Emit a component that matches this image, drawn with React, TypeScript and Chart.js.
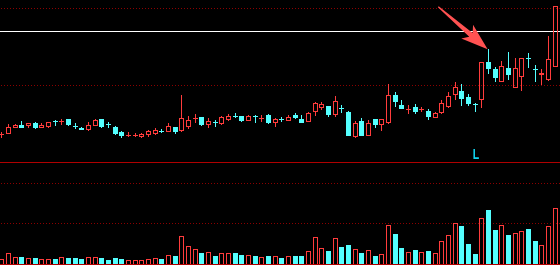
import React, { useEffect, useRef } from "react";
import { Chart, registerables } from "chart.js";

Chart.register(...registerables);

// ---- data (prices; index = trading day) ----
const opens = [
  13.62, 13.84, 14.62, 14.84, 14.88, 15.10, 14.62, 14.71, 15.33, 15.31,
  15.62, 14.78, 14.49, 14.29, 14.88, 15.58, 14.94, 14.58, 13.97, 13.53,
  13.53, 13.46, 13.70, 13.83, 14.04, 14.10, 14.58, 14.25, 14.74, 15.77,
  15.86, 15.01, 15.20, 15.13, 15.60, 16.04, 16.01, 15.43, 15.99, 15.77,
  16.17, 15.23, 15.65, 15.53, 16.17, 15.62, 15.33, 16.70, 17.16, 17.31,
  16.31, 17.01, 16.53, 13.42, 15.36, 13.55, 15.62, 15.01, 15.27, 18.74,
  17.44, 16.94, 17.18, 16.91, 16.66, 15.82, 16.57, 17.35, 18.81, 19.29,
  18.48, 17.60, 18.16, 23.00, 22.12, 20.62, 22.21, 19.84, 21.27, 23.57,
  22.14, 21.43, 20.86, 22.55, 31.60,
];
const highs = [
  13.90, 14.97, 15.01, 15.36, 15.10, 15.20, 15.07, 15.27, 15.46, 15.66,
  15.62, 15.10, 14.58, 15.23, 15.66, 15.58, 15.27, 14.71, 14.07, 13.94,
  13.81, 13.84, 14.17, 14.42, 14.33, 15.07, 14.58, 18.74, 16.01, 16.27,
  15.86, 15.73, 15.49, 16.01, 16.31, 16.40, 16.01, 16.14, 16.14, 16.14,
  16.27, 15.75, 15.93, 16.14, 16.34, 16.14, 16.53, 17.81, 17.77, 17.31,
  18.61, 17.44, 16.66, 15.36, 15.71, 15.49, 15.62, 15.58, 20.17, 19.10,
  18.09, 17.42, 17.55, 17.18, 16.88, 16.57, 18.09, 19.10, 20.43, 20.17,
  18.84, 17.66, 22.99, 24.69, 22.42, 23.16, 24.32, 23.52, 23.52, 24.17,
  22.64, 22.12, 26.40, 30.30, 33.20,
];
const lows = [
  13.33, 13.84, 14.62, 14.62, 14.62, 14.46, 14.62, 14.55, 14.84, 14.97,
  14.81, 14.46, 14.29, 14.13, 14.88, 14.62, 14.55, 13.71, 13.29, 13.38,
  13.42, 13.29, 13.48, 13.64, 13.94, 14.10, 13.84, 14.09, 14.39, 15.23,
  14.88, 14.62, 14.71, 14.94, 15.43, 15.91, 15.36, 15.43, 15.27, 15.39,
  15.13, 14.65, 15.40, 15.53, 15.73, 15.26, 15.33, 16.14, 16.96, 16.05,
  16.05, 16.57, 13.55, 13.29, 13.55, 13.55, 14.62, 14.20, 15.10, 17.31,
  17.09, 16.40, 16.36, 16.60, 15.66, 15.82, 16.36, 17.14, 18.20, 17.48,
  17.42, 16.70, 17.22, 21.64, 20.56, 20.56, 20.82, 19.84, 19.33, 22.42,
  20.59, 20.20, 20.69, 22.55, 31.50,
];
const closes = [
  13.64, 14.62, 14.88, 14.62, 15.10, 14.58, 14.88, 15.20, 15.31, 15.33,
  14.94, 14.77, 14.29, 14.84, 15.46, 14.75, 14.92, 13.84, 13.51, 13.55,
  13.55, 13.68, 14.03, 14.23, 14.03, 14.69, 14.10, 15.71, 15.49, 15.78,
  15.01, 15.36, 15.18, 15.88, 16.05, 16.03, 15.52, 16.04, 15.97, 15.78,
  15.23, 15.62, 15.64, 15.88, 15.91, 15.26, 16.38, 17.68, 17.51, 16.31,
  17.92, 17.00, 13.55, 15.04, 13.55, 15.10, 15.01, 15.58, 18.71, 18.00,
  17.09, 16.95, 16.70, 16.92, 16.05, 16.36, 17.68, 18.57, 19.74, 18.39,
  17.74, 17.58, 22.99, 22.29, 21.12, 22.48, 21.49, 22.21, 23.52, 23.56,
  22.13, 21.64, 23.38, 30.30, 33.00,
];
const volumes = [
  4.5, 10.5, 6.5, 6.5, 5.5, 5.5, 4.5, 4.5, 4.5, 6.5,
  5.5, 5.5, 4.5, 6.5, 6.5, 5.5, 3.5, 5.5, 4.5, 3.5,
  3.5, 3.5, 4.5, 5.5, 4.5, 8.5, 7.5, 27.5, 17.5, 14.5,
  10.5, 11.5, 7.5, 10.5, 10.5, 10.5, 8.5, 8.5, 7.5, 6.5,
  7.5, 7.5, 5.5, 7.5, 7.5, 7.5, 12.5, 26.5, 15.5, 12.5,
  25.5, 16.5, 18.5, 14.5, 10.5, 13.5, 7.5, 9.5, 38.5, 29.5,
  15.5, 11.5, 13.5, 11.5, 12.5, 10.5, 22.5, 28.5, 40.5, 37.5,
  19.5, 9.5, 45.5, 53.5, 33.5, 38.5, 28.5, 30.5, 32.5, 34.5,
  22.5, 18.5, 37.5, 55.5, 80.5,
];
const priceGridDotted = [30, 20];
const priceBaseLine = 10;
const volumeGridDotted = [80, 40];
const volumeBaseLine = 0;
const whiteLevel = 27.0;
const arrowFrom = [65.45, 30.21];
const arrowTo = [72.85, 24.68];
const markerText = "L";
const markerAt = [71.1, 10.39];

const UP = "#ff3c3c";
const DOWN = "#54ffff";
const GRID = "#8c0000";
const AXISLINE = "#b00000";

export default function App() {
  const ref = useRef<HTMLCanvasElement>(null);

  useEffect(() => {
    document.body.style.margin = "0";
    document.body.style.background = "#000";
    const canvas = ref.current!;

    const plugin = {
      id: "kline",
      beforeDraw(chart: any) {
        const ctx = chart.ctx;
        ctx.save();
        ctx.fillStyle = "#000";
        ctx.fillRect(0, 0, chart.width, chart.height);
        ctx.restore();
      },
      afterDraw(chart: any) {
        const ctx: CanvasRenderingContext2D = chart.ctx;
        const xs = chart.scales.x;
        const yp = chart.scales.yP;
        const yv = chart.scales.yV;
        const W = chart.width;
        ctx.save();

        // grid lines
        const dotted = (row: number) => {
          ctx.fillStyle = GRID;
          for (let x = 1; x < W; x += 3) ctx.fillRect(x, row, 1, 1);
        };
        priceGridDotted.forEach((v) => dotted(Math.floor(yp.getPixelForValue(v))));
        volumeGridDotted.forEach((v) => dotted(Math.floor(yv.getPixelForValue(v))));
        ctx.fillStyle = AXISLINE;
        ctx.fillRect(0, Math.floor(yp.getPixelForValue(priceBaseLine)), W, 1);
        const volBase = Math.ceil(yv.getPixelForValue(volumeBaseLine));
        ctx.fillRect(0, volBase, W, 1);

        // white reference level
        ctx.fillStyle = "#ffffff";
        ctx.fillRect(0, Math.floor(yp.getPixelForValue(whiteLevel)), W, 1);

        // candles + volume
        for (let i = 0; i < opens.length; i++) {
          const cx = Math.floor(xs.getPixelForValue(i));
          const up = closes[i] >= opens[i];
          ctx.fillStyle = up ? UP : DOWN;
          const yO = yp.getPixelForValue(opens[i]);
          const yC = yp.getPixelForValue(closes[i]);
          const yH = Math.round(yp.getPixelForValue(highs[i]));
          const yL = Math.round(yp.getPixelForValue(lows[i]));
          let top: number, bot: number;
          if (Math.abs(yO - yC) < 0.8) {
            top = bot = Math.round((yO + yC) / 2);
          } else {
            top = Math.round(Math.min(yO, yC));
            bot = Math.round(Math.max(yO, yC));
          }
          if (yH < top) ctx.fillRect(cx, yH, 1, top - yH);
          if (yL > bot) ctx.fillRect(cx, bot + 1, 1, yL - bot);
          if (bot === top) {
            ctx.fillRect(cx - 2, top, 5, 1);
          } else if (up) {
            ctx.fillRect(cx - 2, top, 5, 1);
            ctx.fillRect(cx - 2, bot, 5, 1);
            ctx.fillRect(cx - 2, top, 1, bot - top + 1);
            ctx.fillRect(cx + 2, top, 1, bot - top + 1);
          } else {
            ctx.fillRect(cx - 2, top, 5, bot - top + 1);
          }

          // volume bar
          const vt = Math.round(yv.getPixelForValue(volumes[i]));
          const h = volBase - vt;
          if (h > 0) {
            if (up) {
              ctx.fillRect(cx - 2, vt, 5, 1);
              ctx.fillRect(cx - 2, vt, 1, h);
              ctx.fillRect(cx + 2, vt, 1, h);
            } else {
              ctx.fillRect(cx - 2, vt, 5, h);
            }
          }
        }

        // marker text
        ctx.save();
        ctx.fillStyle = "#10d4f0";
        ctx.font = 'bold 14px "Liberation Sans", Arial, sans-serif';
        ctx.textAlign = "center";
        ctx.textBaseline = "alphabetic";
        ctx.translate(xs.getPixelForValue(markerAt[0]), yp.getPixelForValue(markerAt[1]));
        ctx.scale(0.75, 1);
        ctx.fillText(markerText, 0, 0);
        ctx.restore();

        // arrow
        const fx = xs.getPixelForValue(arrowFrom[0]);
        const fy = yp.getPixelForValue(arrowFrom[1]);
        const tx = xs.getPixelForValue(arrowTo[0]);
        const ty = yp.getPixelForValue(arrowTo[1]);
        const dx = tx - fx, dy = ty - fy;
        const len = Math.hypot(dx, dy);
        const ux = dx / len, uy = dy / len;
        const nx = -uy, ny = ux;
        const head = 27, half = 9, shaft = 2.6, notch = 5;
        const bx = tx - ux * head, by = ty - uy * head;
        const sx = bx + ux * notch, sy = by + uy * notch;
        ctx.fillStyle = "#ff5252";
        ctx.beginPath();
        ctx.moveTo(fx + nx * 0.6, fy + ny * 0.6);
        ctx.lineTo(sx + nx * shaft, sy + ny * shaft);
        ctx.lineTo(bx + nx * half, by + ny * half);
        ctx.lineTo(tx, ty);
        ctx.lineTo(bx - nx * half, by - ny * half);
        ctx.lineTo(sx - nx * shaft, sy - ny * shaft);
        ctx.lineTo(fx - nx * 0.6, fy - ny * 0.6);
        ctx.closePath();
        ctx.fill();

        ctx.restore();
      },
    };

    const chart = new Chart(canvas, {
      type: "scatter",
      data: { datasets: [] },
      options: {
        animation: false,
        responsive: false,
        devicePixelRatio: 1,
        events: [],
        layout: { padding: 0 },
        plugins: {
          legend: { display: false },
          tooltip: { enabled: false },
          title: { display: false },
        },
        scales: {
          x: { type: "linear", display: false, min: -0.255, max: 83.7 },
          y: { type: "linear", display: false },
          yP: { type: "linear", axis: "y", display: false, min: -3.338, max: 31.078 },
          yV: { type: "linear", axis: "y", display: false, min: -1.5, max: 263.5 },
        },
      } as any,
      plugins: [plugin],
    });
    return () => chart.destroy();
  }, []);

  return (
    <div style={{ width: 560, height: 265, background: "#000" }}>
      <canvas ref={ref} width={560} height={265} style={{ display: "block" }} />
    </div>
  );
}
